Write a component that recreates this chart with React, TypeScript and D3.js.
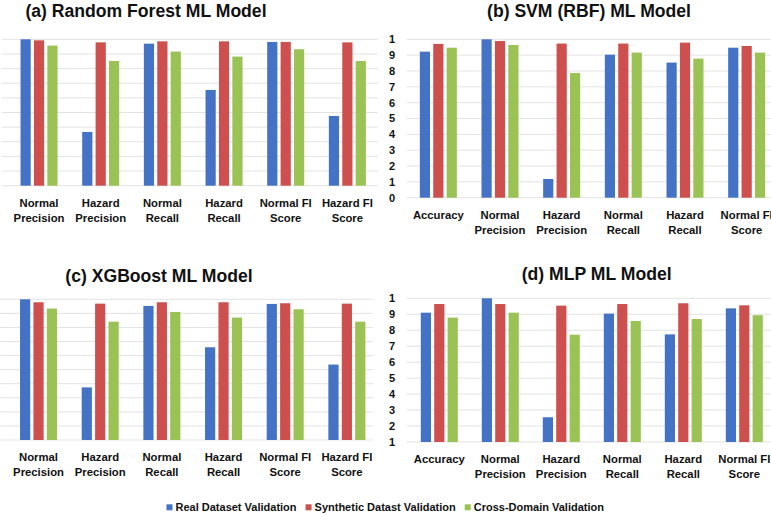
import React, { useRef, useEffect } from 'react';
import * as d3 from 'd3';

// series shared by all four panels
const seriesNames = ['Real Dataset Validation', 'Synthetic Datast Validation', 'Cross-Domain Validation'];
const seriesColors = ['#4472C4', '#CD4F4E', '#9BC255'];

const catsLeft = ['Normal Precision', 'Hazard Precision', 'Normal Recall', 'Hazard Recall', 'Normal FI Score', 'Hazard FI Score'];
const catsRight = ['Accuracy', 'Normal Precision', 'Hazard Precision', 'Normal Recall', 'Hazard Recall', 'Normal FI Score'];

// (a) Random Forest
const rfReal = [1.0, 0.367, 0.97, 0.654, 0.982, 0.476];
const rfSynth = [0.993, 0.979, 0.986, 0.986, 0.982, 0.979];
const rfCross = [0.957, 0.852, 0.916, 0.882, 0.932, 0.852];

// (b) SVM (RBF)
const svmReal = [0.922, 1.0, 0.118, 0.903, 0.853, 0.947];
const svmSynth = [0.971, 0.989, 0.973, 0.973, 0.979, 0.958];
const svmCross = [0.947, 0.964, 0.787, 0.916, 0.878, 0.916];

// (c) XGBoost
const xgbReal = [1.0, 0.374, 0.953, 0.659, 0.967, 0.536];
const xgbSynth = [0.979, 0.969, 0.979, 0.979, 0.972, 0.969];
const xgbCross = [0.934, 0.841, 0.91, 0.87, 0.929, 0.841];

// (d) MLP
const mlpReal = [0.91, 1.0, 0.255, 0.904, 0.774, 0.937];
const mlpSynth = [0.964, 0.964, 0.954, 0.964, 0.969, 0.956];
const mlpCross = [0.879, 0.91, 0.772, 0.858, 0.87, 0.894];

const FONT = '"Liberation Sans", Arial, sans-serif';

const panels = [
  { title: '(a) Random Forest ML Model', tx: 146, ty: 17, cats: catsLeft, vals: [rfReal, rfSynth, rfCross],
    x: [8.2, 378.2], y: [185.7, 39.3], dom: [0, 1], grid: [2, 378], labels: false },
  { title: '(b) SVM (RBF) ML Model', tx: 589, ty: 17, cats: catsRight, vals: [svmReal, svmSynth, svmCross],
    x: [407.5, 777.5], y: [197.7, 39.3], dom: [0, 1], grid: [406.7, 771], labels: true },
  { title: '(c) XGBoost ML Model', tx: 159, ty: 281.7, cats: catsLeft, vals: [xgbReal, xgbSynth, xgbCross],
    x: [7.7, 377.7], y: [440, 299.3], dom: [0, 1], grid: [0, 373], labels: false },
  { title: '(d) MLP ML Model', tx: 596.7, ty: 280, cats: catsRight, vals: [mlpReal, mlpSynth, mlpCross],
    x: [408.8, 774.8], y: [442, 298.3], dom: [0.1, 1], grid: [406.7, 771], labels: true },
];

const App = () => {
  const svgRef = useRef(null);

  useEffect(() => {
    const svg = d3.select(svgRef.current);
    svg.selectAll('*').remove();

    panels.forEach(p => {
      const g = svg.append('g');
      const yScale = d3.scaleLinear().domain(p.dom).range(p.y);
      const ticks = d3.range(Math.round(p.dom[0] * 10), 11).map(d => d / 10);

      // gridlines
      g.selectAll('line.grid')
        .data(ticks)
        .enter().append('line')
        .attr('x1', p.grid[0]).attr('x2', p.grid[1])
        .attr('y1', d => yScale(d)).attr('y2', d => yScale(d))
        .attr('stroke', '#e3e3e3')
        .attr('stroke-width', 1);

      if (p.labels) {
        g.selectAll('text.tick')
          .data(ticks)
          .enter().append('text')
          .attr('x', 392).attr('y', d => yScale(d))
          .attr('dy', '0.36em')
          .attr('text-anchor', 'middle')
          .style('font', `bold 11px ${FONT}`)
          .attr('fill', '#111')
          .text(d => (d >= 0.999 ? '1' : String(Math.round(d * 10))));
      }

      const x0 = d3.scaleBand().domain(p.cats).range(p.x);
      const groupW = 37;
      const x1 = d3.scaleBand().domain(seriesNames).range([0, groupW]).paddingInner(0.24);

      seriesNames.forEach((s, si) => {
        g.selectAll(`rect.s${si}`)
          .data(p.vals[si])
          .enter().append('rect')
          .attr('x', (d, i) => x0(p.cats[i]) + (x0.bandwidth() - groupW) / 2 + x1(s))
          .attr('y', d => yScale(d))
          .attr('width', x1.bandwidth())
          .attr('height', d => p.y[0] - yScale(d))
          .attr('fill', seriesColors[si]);
      });

      // category labels, last word on second line
      p.cats.forEach(c => {
        const words = c.split(' ');
        const lines = words.length > 1 ? [words.slice(0, -1).join(' '), words[words.length - 1]] : [c];
        const t = g.append('text')
          .attr('text-anchor', 'middle')
          .style('font', `bold 11.3px ${FONT}`)
          .attr('fill', '#111');
        lines.forEach((l, li) => {
          t.append('tspan')
            .attr('x', x0(c) + x0.bandwidth() / 2)
            .attr('y', p.y[0] + 21 + li * 15)
            .text(l);
        });
      });

      g.append('text')
        .attr('x', p.tx).attr('y', p.ty)
        .attr('text-anchor', 'middle')
        .style('font', `bold 17.6px ${FONT}`)
        .attr('fill', '#111')
        .text(p.title);
    });

    // legend
    const leg = svg.append('g');
    let lx = 166.5;
    seriesNames.forEach((s, i) => {
      leg.append('rect')
        .attr('x', lx).attr('y', 504.3)
        .attr('width', 6).attr('height', 6)
        .attr('fill', seriesColors[i]);
      const t = leg.append('text')
        .attr('x', lx + 9).attr('y', 511.2)
        .style('font', `bold 11px ${FONT}`)
        .attr('fill', '#111')
        .text(s);
      const w = (t.node() as SVGTextElement).getComputedTextLength();
      lx += 9 + w + 9;
    });
  }, []);

  return (
    <svg
      ref={svgRef}
      width={771}
      height={515}
      style={{ position: 'absolute', left: 0, top: 0, background: '#fff' }}
    />
  );
};

export default App;
